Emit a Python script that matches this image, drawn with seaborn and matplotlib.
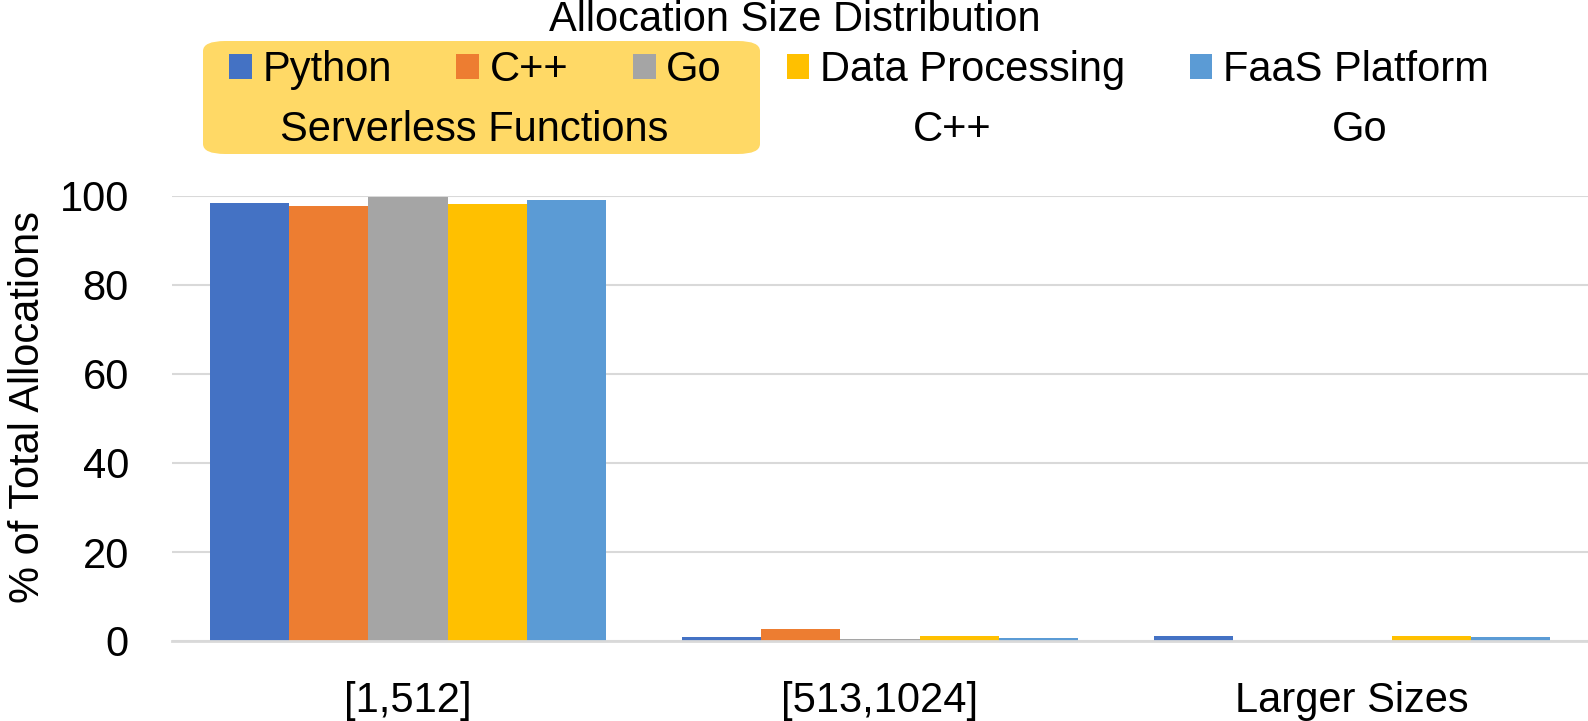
import pandas as pd
import matplotlib.pyplot as plt
import seaborn as sns
from matplotlib.patches import Patch, FancyBboxPatch

# valores
categorias = ["[1,512]", "[513,1024]", "Larger Sizes"]
series = ["Python", "C++", "Go", "Data Processing", "FaaS Platform"]
python_vals = [98.4, 0.9, 1.1]
cpp_vals = [97.7, 2.6, 0.0]
go_vals = [99.8, 0.5, 0.0]
data_proc_vals = [98.3, 1.05, 1.05]
faas_vals = [99.0, 0.7, 0.8]
colores = ["#4472C4", "#ED7D31", "#A5A5A5", "#FFC000", "#5B9BD5"]

valores = [python_vals, cpp_vals, go_vals, data_proc_vals, faas_vals]
filas = []
for s, vals in zip(series, valores):
    for c, v in zip(categorias, vals):
        filas.append({"categoria": c, "serie": s, "pct": v})
df = pd.DataFrame(filas)

sns.set_style("white")
plt.rcParams["font.family"] = ["Liberation Sans", "DejaVu Sans"]
plt.rcParams["text.color"] = "black"
plt.rcParams["xtick.color"] = "black"
plt.rcParams["ytick.color"] = "black"
plt.rcParams["axes.labelcolor"] = "black"
fs = 30

fig = plt.figure(figsize=(15.88, 7.21), dpi=100)
ax = fig.add_axes([172 / 1588, 80 / 721, 1 - 172 / 1588, (640.7 - 195.7) / 721])

sns.barplot(data=df, x="categoria", y="pct", hue="serie", palette=colores,
            width=0.84, linewidth=0, saturation=1, errorbar=None, ax=ax, legend=False)

ax.set_ylim(0, 100)
ax.set_xlim(-0.5, 2.5)
ax.set_yticks([0, 20, 40, 60, 80, 100])
ax.yaxis.grid(True, color="#D9D9D9", linewidth=1.5)
ax.set_axisbelow(True)
for sp in ["top", "right", "left"]:
    ax.spines[sp].set_visible(False)
ax.spines["bottom"].set_color("#D9D9D9")
ax.spines["bottom"].set_linewidth(2)
ax.tick_params(axis="both", length=0, labelsize=fs)
ax.tick_params(axis="y", pad=31)
ax.tick_params(axis="x", pad=29)
ax.set_xlabel("")
ax.set_ylabel("% of Total Allocations", fontsize=fs)
ax.yaxis.set_label_coords(-0.0876, 0.525)

# caja amarilla de fondo
caja = FancyBboxPatch((203 / 1588, 1 - 154 / 721), 557 / 1588, 113 / 721,
                      boxstyle="round,pad=0,rounding_size=0.014",
                      transform=fig.transFigure, facecolor="#FFD966",
                      edgecolor="none", zorder=0)
fig.patches.append(caja)

handles = [Patch(facecolor=c, edgecolor="none") for c in colores]
fig.legend(handles, series, loc="center left", bbox_to_anchor=(229 / 1588, 1 - 70 / 721),
           ncol=5, frameon=False, fontsize=fs, borderpad=0, borderaxespad=0,
           handlelength=0.55, handleheight=0.55, handletextpad=0.25, columnspacing=1.55)

fig.text(795 / 1588, 1 - 20 / 721, "Allocation Size Distribution", ha="center", va="center", fontsize=fs)
fig.text(474 / 1588, 1 - 130 / 721, "Serverless Functions", ha="center", va="center", fontsize=fs)
fig.text(952 / 1588, 1 - 130 / 721, "C++", ha="center", va="center", fontsize=fs)
fig.text(1360 / 1588, 1 - 130 / 721, "Go", ha="center", va="center", fontsize=fs)

fig.savefig("out.png", dpi=100)
